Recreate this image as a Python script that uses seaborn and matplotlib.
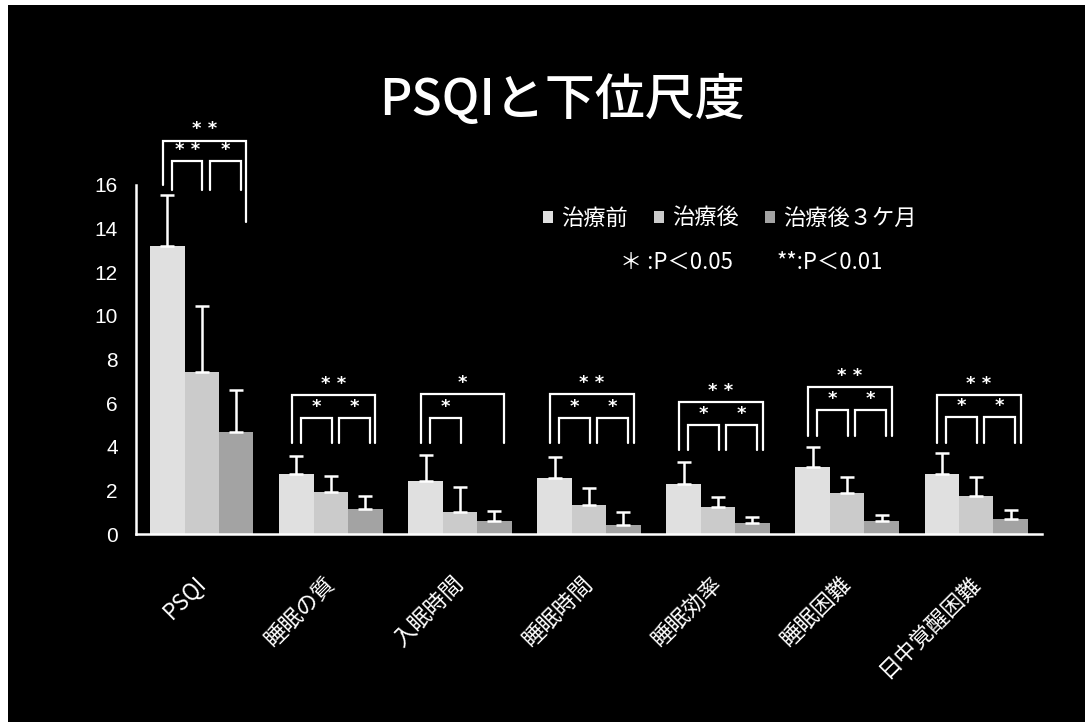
import numpy as np
import pandas as pd
import matplotlib
matplotlib.use("Agg")
import matplotlib.pyplot as plt
import seaborn as sns

# ---- data -------------------------------------------------------------
categories = ["PSQI", "睡眠の質", "入眠時間", "睡眠時間", "睡眠効率", "睡眠困難", "日中覚醒困難"]
phases = ["治療前", "治療後", "治療後３ケ月"]

pre_mean = [13.2, 2.75, 2.44, 2.55, 2.28, 3.06, 2.74]
pre_sd = [2.35, 0.83, 1.18, 0.97, 1.01, 0.94, 0.98]
post_mean = [7.42, 1.94, 1.02, 1.33, 1.22, 1.86, 1.73]
post_sd = [3.05, 0.72, 1.12, 0.77, 0.46, 0.74, 0.90]
m3_mean = [4.66, 1.13, 0.60, 0.41, 0.50, 0.60, 0.70]
m3_sd = [1.94, 0.61, 0.47, 0.61, 0.30, 0.29, 0.40]

y_ticks = [0, 2, 4, 6, 8, 10, 12, 14, 16]

# significance marks: overall (pre vs 3 months), pre vs post, post vs 3 months
sig_outer = ["* *", "* *", "*", "* *", "* *", "* *", "* *"]
sig_inner1 = ["* *", "*", "*", "*", "*", "*", "*"]
sig_inner2 = ["*", "*", "", "*", "*", "*", "*"]

# bracket heights (data units): outer top, outer left leg end, outer right leg end,
# inner top, inner leg end
br_outer_top = [18.04, 6.38, 6.41, 6.41, 6.04, 6.73, 6.38]
br_outer_left = [16.0, 4.16, 4.16, 4.16, 3.85, 4.50, 4.16]
br_outer_right = [14.3, 4.16, 4.16, 4.16, 3.85, 4.50, 4.16]
br_inner_top = [17.08, 5.31, 5.33, 5.33, 5.00, 5.69, 5.35]
br_inner_end = [15.78, 4.16, 4.16, 4.16, 3.85, 4.50, 4.16]

# ---- long-form table ----------------------------------------------------
rows = []
for means, sds, ph in [(pre_mean, pre_sd, phases[0]),
                       (post_mean, post_sd, phases[1]),
                       (m3_mean, m3_sd, phases[2])]:
    for c, m, s in zip(categories, means, sds):
        rows.append({"項目": c, "時期": ph, "平均": m, "SD": s})
df = pd.DataFrame(rows)

# ---- style ----------------------------------------------------------------
sns.set_theme(style="dark")
plt.rcParams["font.family"] = ["Noto Sans CJK JP", "DejaVu Sans"]
plt.rcParams["axes.unicode_minus"] = False

BG = "black"
FG = "white"
bar_colors = ["#e0e0e0", "#cbcbcb", "#a3a3a3"]

fig = plt.figure(figsize=(10.85, 7.22), dpi=100, facecolor=BG)
ax = fig.add_axes([136 / 1085, 188 / 722, (1042 - 136) / 1085, (534 - 185) / 722])
ax.set_facecolor(BG)

sns.barplot(data=df, x="項目", y="平均", hue="時期", order=categories,
            hue_order=phases, palette=bar_colors, errorbar=None,
            width=0.8, linewidth=0, ax=ax)

# one-sided (upper) SD error bars on each bar
for cont, ph in zip(ax.containers, phases):
    sub = df[df["時期"] == ph].set_index("項目").loc[categories]
    xs = [b.get_x() + b.get_width() / 2 for b in cont]
    hs = [b.get_height() for b in cont]
    ax.errorbar(xs, hs, yerr=[np.zeros(len(hs)), sub["SD"].values],
                fmt="none", ecolor=FG, elinewidth=1.8, capsize=5,
                capthick=1.8, zorder=3)

ax.set_ylim(0, 16)
ax.set_xlim(-0.51, len(categories) - 0.49)
ax.set_yticks(y_ticks)
ax.set_yticklabels([str(t) for t in y_ticks], family="Liberation Sans",
                   fontsize=15, color=FG)
ax.tick_params(axis="y", length=0, pad=13)
ax.tick_params(axis="x", length=0, pad=33)
for lbl in ax.get_xticklabels():
    lbl.set_rotation(45)
    lbl.set_ha("right")
    lbl.set_rotation_mode("anchor")
    lbl.set_va("center")
    lbl.set_color(FG)
    lbl.set_fontsize(16)
ax.set_xlabel("")
ax.set_ylabel("")
ax.grid(False)

for side in ["top", "right"]:
    ax.spines[side].set_visible(False)
for side in ["left", "bottom"]:
    ax.spines[side].set_visible(True)
    ax.spines[side].set_color(FG)
    ax.spines[side].set_linewidth(1.8)

# significance brackets
centers = ax.get_xticks()
lw = 1.6
for i, c in enumerate(centers):
    ol, orr = c - 0.30, c + 0.345
    ax.plot([ol, ol, orr, orr],
            [br_outer_left[i], br_outer_top[i], br_outer_top[i], br_outer_right[i]],
            color=FG, lw=lw, clip_on=False, solid_joinstyle="miter")
    ax.annotate(sig_outer[i], (c + 0.02, br_outer_top[i]), xytext=(0, 8),
                textcoords="offset points", ha="center", va="center",
                color=FG, fontsize=13, family="DejaVu Sans", fontweight="bold",
                annotation_clip=False)
    for (a, b), s in [((c - 0.23, c + 0.005), sig_inner1[i]),
                      ((c + 0.06, c + 0.30), sig_inner2[i])]:
        if not s:
            continue
        ax.plot([a, a, b, b],
                [br_inner_end[i], br_inner_top[i], br_inner_top[i], br_inner_end[i]],
                color=FG, lw=lw, clip_on=False, solid_joinstyle="miter")
        ax.annotate(s, ((a + b) / 2, br_inner_top[i]), xytext=(0, 8),
                    textcoords="offset points", ha="center", va="center",
                    color=FG, fontsize=13, family="DejaVu Sans", fontweight="bold",
                    annotation_clip=False)

# legend
sns.move_legend(ax, "center left", bbox_to_anchor=(543 / 1085, 1 - 218 / 722),
                bbox_transform=fig.transFigure, ncol=3, frameon=False, title=None,
                fontsize=16, handlelength=0.45, handleheight=0.45,
                handletextpad=0.35, columnspacing=1.2, borderpad=0,
                borderaxespad=0)
for t in ax.get_legend().get_texts():
    t.set_color(FG)

fig.text(620 / 1085, 1 - 262 / 722, "＊ :P＜0.05", color=FG, fontsize=16,
         ha="left", va="center")
fig.text(777 / 1085, 1 - 262 / 722, "**:P＜0.01", color=FG, fontsize=16,
         ha="left", va="center")

# title
fig.text(562 / 1085, 1 - 101 / 722, "PSQIと下位尺度", color=FG, fontsize=36,
         fontweight="medium", ha="center", va="center")

# light frame along the left and top edges of the slide
fig.patches.append(plt.Rectangle((0, 0), 8 / 1085, 1, transform=fig.transFigure,
                                 facecolor="white", edgecolor="none", zorder=-1))
fig.patches.append(plt.Rectangle((0, 1 - 5 / 722), 1, 5 / 722, transform=fig.transFigure,
                                 facecolor="white", edgecolor="none", zorder=-1))

fig.savefig("out.png", dpi=100, facecolor=BG)
